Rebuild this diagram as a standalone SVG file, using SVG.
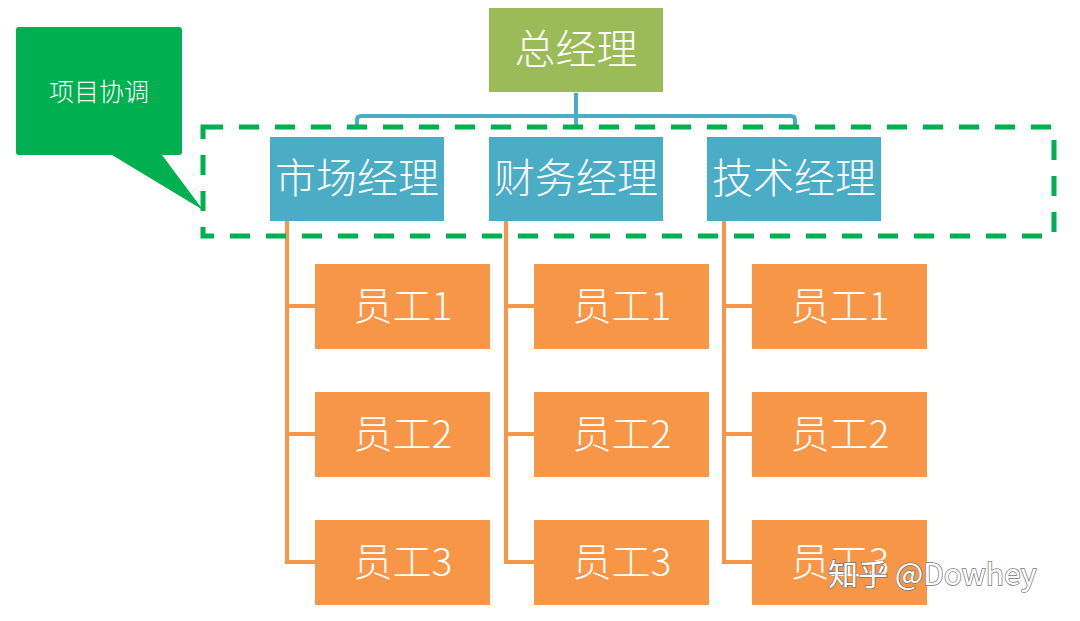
<svg xmlns="http://www.w3.org/2000/svg" width="1080" height="621" viewBox="0 0 1080 621">
<style>
text{font-family:"Noto Sans CJK SC","Liberation Sans",sans-serif;fill:#fff;text-anchor:middle;dominant-baseline:central;font-weight:300}
.big{font-size:41px}
.emp{font-size:39px}
.blue{fill:#4BACC6}
.orange{fill:#F79646}
.bl{stroke:#4BACC6;stroke-width:4;fill:none;stroke-linejoin:round}
.ol{stroke:#F79646;stroke-width:4;fill:none}
</style>
<rect width="1080" height="621" fill="#fff"/>
<g id="callout">
<path d="M19,27 H179 Q182,27 182,30 V152 Q182,155 179,155 H162 L203,210 L112,155 H19 Q16,155 16,152 V30 Q16,27 19,27 Z" fill="#00B050"/>
<text x="99" y="90" style="font-size:25px">项目协调</text>
</g>
<g id="connectors">
<path class="bl" d="M576,93 V116 M357,129 V120 Q357,116 361,116 H791 Q795,116 795,120 V129 M576,116 V129"/>
<path class="ol" d="M287,221 V562 H315 M287,306 H315 M287,434 H315"/>
<path class="ol" d="M506,221 V562 H534 M506,306 H534 M506,434 H534"/>
<path class="ol" d="M724,221 V562 H752 M724,306 H752 M724,434 H752"/>
</g>
<g id="gm"><rect x="489" y="8" width="174" height="84" fill="#9BBB59"/><text class="big" x="576" y="46">总经理</text></g>
<g id="m1"><rect class="blue" x="270" y="137" width="174" height="84"/><text class="big" x="357" y="175">市场经理</text></g>
<g id="m2"><rect class="blue" x="489" y="137" width="174" height="84"/><text class="big" x="576" y="175">财务经理</text></g>
<g id="m3"><rect class="blue" x="707" y="137" width="174" height="84"/><text class="big" x="794" y="175">技术经理</text></g>
<g id="group-box"><rect x="203" y="127" width="851" height="109" fill="none" stroke="#00B050" stroke-width="5" stroke-dasharray="20 16"/></g>
<g id="e11"><rect class="orange" x="315" y="264" width="175" height="85"/><text class="emp" x="403" y="303">员工1</text></g>
<g id="e12"><rect class="orange" x="315" y="392" width="175" height="85"/><text class="emp" x="403" y="431">员工2</text></g>
<g id="e13"><rect class="orange" x="315" y="520" width="175" height="85"/><text class="emp" x="403" y="559">员工3</text></g>
<g id="e21"><rect class="orange" x="534" y="264" width="175" height="85"/><text class="emp" x="622" y="303">员工1</text></g>
<g id="e22"><rect class="orange" x="534" y="392" width="175" height="85"/><text class="emp" x="622" y="431">员工2</text></g>
<g id="e23"><rect class="orange" x="534" y="520" width="175" height="85"/><text class="emp" x="622" y="559">员工3</text></g>
<g id="e31"><rect class="orange" x="752" y="264" width="175" height="85"/><text class="emp" x="840" y="303">员工1</text></g>
<g id="e32"><rect class="orange" x="752" y="392" width="175" height="85"/><text class="emp" x="840" y="431">员工2</text></g>
<g id="e33"><rect class="orange" x="752" y="520" width="175" height="85"/><text class="emp" x="840" y="559">员工3</text></g>
<g id="watermark"><text x="828" y="572" style="font-size:30px;text-anchor:start;stroke:#777;stroke-width:1.5;paint-order:stroke;font-weight:400">知乎 @Dowhey</text></g>
</svg>
